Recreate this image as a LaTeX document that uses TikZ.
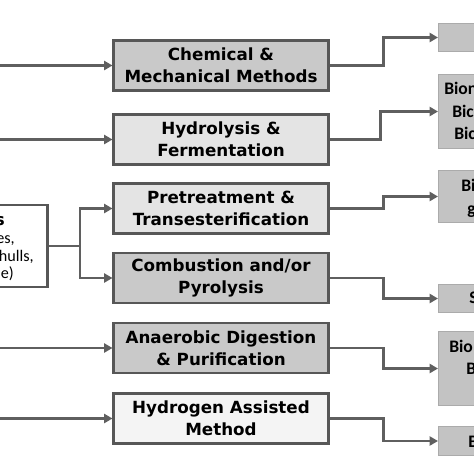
\documentclass[tikz,border=0pt]{standalone}
\usepackage{fontspec}
\setmainfont{DejaVu Sans}
\newfontfamily\calfont{Carlito}
\usepackage{tikz}
\usetikzlibrary{
  arrows.meta,
  positioning,
  calc
}
\usepackage{xcolor}
\definecolor{LineGray}{HTML}{5F5F5F}
\definecolor{EdgeGray}{HTML}{575757}
\definecolor{BoxDark}{HTML}{C9C9C9}
\definecolor{BoxLight}{HTML}{E4E4E4}
\definecolor{BoxPale}{HTML}{F4F4F4}
\definecolor{OutGray}{HTML}{C3C3C3}
\definecolor{OutEdge}{HTML}{ABABAB}

\begin{document}
\begin{tikzpicture}[
  x=0.025cm,
  y=-0.025cm,
  method/.style={
    draw=EdgeGray,
    line width=2.1pt,
    minimum width=5.35cm,
    minimum height=1.25cm,
    inner sep=0pt,
    align=center,
    font=\bfseries\fontsize{11.9}{15.6}\selectfont
  },
  product/.style={
    draw=OutEdge,
    fill=OutGray,
    line width=0.6pt,
    minimum width=2.6cm,
    inner sep=0pt,
    anchor=west
  },
  prodtext/.style={font=\calfont\bfseries\fontsize{12.5}{15}\selectfont,inner sep=0pt,anchor=base west},
  feedtext/.style={font=\calfont\fontsize{11.5}{12}\selectfont,inner sep=0pt,anchor=base east},
  flow/.style={draw=LineGray,line width=1.9pt,-{Triangle[length=6pt,width=6.5pt]}},
  joint/.style={draw=LineGray,line width=1.9pt}
]
\useasboundingbox (0,0) rectangle (474,474);
\clip (0,0) rectangle (474,474);

% Feedstock box, cut off at the left edge.
\node[draw=EdgeGray,fill=white,line width=2.1pt,minimum width=4cm,
  minimum height=2.05cm,anchor=east,inner sep=0pt] (feed) at (49,246) {};
\node[font=\bfseries\fontsize{11.5}{13}\selectfont,inner sep=0pt,anchor=base east]
  at (5,225) {s};
\node[feedtext] at (15,243.5) {es,};
\node[feedtext] at (34,261) {hulls,};
\node[feedtext] at (14,278.5) {e)};

% Conversion routes.
\node[method,fill=BoxDark] (chem) at (221,65.5) {Chemical \&\\Mechanical Methods};
\node[method,fill=BoxLight] (hydro) at (221,139.5) {Hydrolysis \&\\Fermentation};
\node[method,fill=BoxLight] (pret) at (221,208.5) {Pretreatment \&\\Transesterification};
\node[method,fill=BoxDark] (comb) at (221,278) {Combustion and/or\\Pyrolysis};
\node[method,fill=BoxDark] (anae) at (221,348) {Anaerobic Digestion\\\& Purification};
\node[method,fill=BoxPale] (hydr) at (221,418.5) {Hydrogen Assisted\\Method};

% Products, cut off at the right edge.
\node[product,minimum height=0.7cm] (out1) at (438,37.5) {};
\node[product,minimum height=1.85cm] (out2) at (438,111.5) {};
\node[product,minimum height=1.3cm] (out3) at (438,196.5) {};
\node[product,minimum height=0.7cm] (out4) at (438,298.5) {};
\node[product,minimum height=1.85cm] (out5) at (438,368.5) {};
\node[product,minimum height=0.72cm] (out6) at (438,441) {};

\node[prodtext] at (444,94.5) {Bion};
\node[prodtext] at (452,117) {Bic};
\node[prodtext] at (454,139.5) {Bic};
\node[prodtext] at (461,191.5) {Bi};
\node[prodtext] at (467,214) {g};
\node[prodtext] at (469,303.5) {S};
\node[prodtext] at (449,352) {Bio};
\node[prodtext] at (466,374.5) {B};
\node[prodtext] at (468,447) {B};

% Incoming feeds from the left.
\coordinate (inchem) at (-10,65.5);
\coordinate (inhydro) at (-10,139.5);
\coordinate (inanae) at (-10,348);
\coordinate (inhydr) at (-10,418.5);
\draw[flow] (inchem) -- (chem.west);
\draw[flow] (inhydro) -- (hydro.west);
\draw[flow] (inanae) -- (anae.west);
\draw[flow] (inhydr) -- (hydr.west);

\draw[joint] (feed.east) -- ++(31,0) coordinate (split);
\draw[flow] (split) |- (pret.west);
\draw[flow] (split) |- (comb.west);

% Routes to products.
\draw[flow] (chem.east) -- ++(54,0) |- (out1.west);
\draw[flow] (hydro.east) -- ++(51,0) |- (out2.west);
\draw[flow] (pret.east) -- ++(54,0) |- (out3.west);
\draw[flow] (comb.east) -- ++(54,0) |- (out4.west);
\draw[flow] (anae.east) -- ++(54,0) |- (out5.west);
\draw[flow] (hydr.east) -- ++(54,0) |- (out6.west);
\end{tikzpicture}
\end{document}
